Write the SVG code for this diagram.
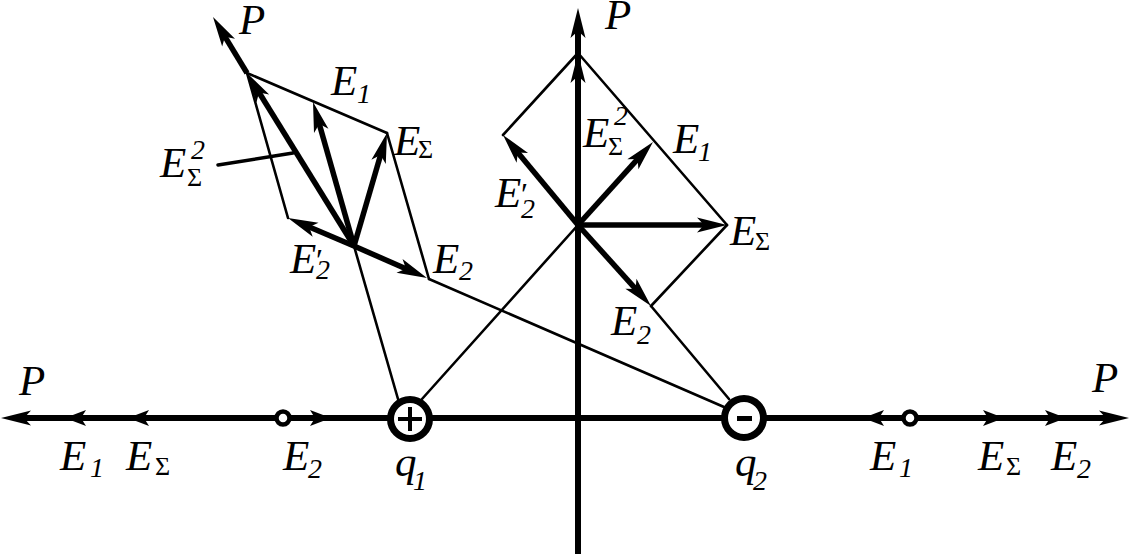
<svg xmlns="http://www.w3.org/2000/svg" xmlns:xlink="http://www.w3.org/1999/xlink" width="1131" height="554" viewBox="0 0 1131 554">
<style>
.thin{stroke:#000;stroke-width:2.6;fill:none;stroke-linecap:round}
.thick{stroke:#000;stroke-width:5.5;fill:none}
.axis{stroke:#000;stroke-width:6;fill:none}
.ah{fill:#000}
.t{font-family:"Liberation Serif","Times New Roman",serif;font-style:italic;font-size:43px;fill:#000}
.s{font-size:28px}
.g{font-style:normal;font-size:26px}
.pr{font-style:normal;font-size:32px}
</style>
<defs>
<path id="big" class="ah" d="M0,0 L-30,-7.5 L-23,0 L-30,7.5 Z"/>
<path id="small" class="ah" d="M0,0 L-21,-8 L-16,0 L-21,8 Z"/>
</defs>
<rect width="1131" height="554" fill="#fff"/>
<g id="connectors">
  <line class="axis" x1="18" y1="418" x2="1112" y2="418"/>
  <line class="axis" x1="578" y1="554" x2="578" y2="28"/>
  <use xlink:href="#big" transform="translate(1,418) rotate(180)"/>
  <use xlink:href="#small" transform="translate(65,418) rotate(180)"/>
  <use xlink:href="#small" transform="translate(128,418) rotate(180)"/>
  <use xlink:href="#small" transform="translate(331,418)"/>
  <use xlink:href="#small" transform="translate(863,418) rotate(180)"/>
  <use xlink:href="#small" transform="translate(1004,418)"/>
  <use xlink:href="#small" transform="translate(1066,418)"/>
  <use xlink:href="#big" transform="translate(1129,418)"/>
  <use xlink:href="#big" transform="translate(578,8) rotate(-90)"/>
  <use xlink:href="#big" transform="translate(578,53) rotate(-90)"/>
  <line class="thin" x1="247" y1="73" x2="387" y2="133"/>
  <line class="thin" x1="387" y1="133" x2="429" y2="279"/>
  <line class="thin" x1="247" y1="73" x2="288" y2="218"/>
  <line class="thin" x1="354" y1="246" x2="398" y2="399"/>
  <line class="thin" x1="429" y1="279" x2="724" y2="407"/>
  <line class="thin" x1="218" y1="165" x2="293" y2="153" style="stroke-width:3.5"/>
  <line class="thick" x1="354" y1="246" x2="257.5" y2="90"/>
  <use xlink:href="#big" transform="translate(247,73) rotate(-121.7)"/>
  <line class="thick" x1="247" y1="73" x2="223.4" y2="34.1"/>
  <use xlink:href="#big" transform="translate(213,17) rotate(-121.3)"/>
  <line class="thick" x1="354" y1="246" x2="318.5" y2="121.2"/>
  <use xlink:href="#big" transform="translate(313,102) rotate(-105.9)"/>
  <line class="thick" x1="354" y1="246" x2="381.4" y2="152.2"/>
  <use xlink:href="#big" transform="translate(387,133) rotate(-73.7)"/>
  <line class="thick" x1="354" y1="246" x2="306.4" y2="225.8"/>
  <use xlink:href="#big" transform="translate(288,218) rotate(-157)"/>
  <line class="thick" x1="354" y1="246" x2="408.7" y2="270"/>
  <use xlink:href="#big" transform="translate(427,278) rotate(23.7)"/>
  <line class="thin" x1="578" y1="53" x2="727" y2="225"/>
  <line class="thin" x1="578" y1="53" x2="503" y2="135"/>
  <line class="thin" x1="727" y1="225" x2="651" y2="306"/>
  <line class="thin" x1="651" y1="306" x2="729" y2="399"/>
  <line class="thin" x1="578" y1="225" x2="422" y2="399"/>
  <line class="thick" x1="578" y1="225" x2="639.6" y2="156.8"/>
  <use xlink:href="#big" transform="translate(653,142) rotate(-47.9)"/>
  <line class="thick" x1="578" y1="225" x2="707" y2="225"/>
  <use xlink:href="#big" transform="translate(727,225)"/>
  <line class="thick" x1="578" y1="225" x2="637.6" y2="291.1"/>
  <use xlink:href="#big" transform="translate(651,306) rotate(48)"/>
  <line class="thick" x1="578" y1="225" x2="515.9" y2="150.3"/>
  <use xlink:href="#big" transform="translate(503,135) rotate(-130.1)"/>
</g>
<g id="q1">
  <circle cx="410" cy="419" r="19.5" fill="#fff" stroke="#000" stroke-width="7"/>
  <path d="M398,419 H422 M410,407 V431" stroke="#000" stroke-width="4"/>
  <text class="t" x="395" y="476">q<tspan class="s" x="413" y="490">1</tspan></text>
</g>
<g id="q2">
  <circle cx="744" cy="418" r="19.5" fill="#fff" stroke="#000" stroke-width="7"/>
  <rect x="737" y="416" width="15" height="5" fill="#000"/>
  <text class="t" x="735" y="476">q<tspan class="s" x="753" y="490">2</tspan></text>
</g>
<g id="point-left">
  <circle cx="283" cy="418" r="6.5" fill="#fff" stroke="#000" stroke-width="4.5"/>
</g>
<g id="point-right">
  <circle cx="910" cy="418" r="6.5" fill="#fff" stroke="#000" stroke-width="4.5"/>
</g>
<g id="labels-axis">
  <text class="t" x="19" y="395">P</text>
  <text class="t" x="60" y="470">E<tspan class="s" x="90" y="477">1</tspan></text>
  <text class="t" x="126" y="470">E<tspan class="g" x="155" y="475">Σ</tspan></text>
  <text class="t" x="283" y="470">E<tspan class="s" x="308" y="478">2</tspan></text>
  <text class="t" x="870" y="470">E<tspan class="s" x="899" y="477">1</tspan></text>
  <text class="t" x="978" y="470">E<tspan class="g" x="1006" y="475">Σ</tspan></text>
  <text class="t" x="1051" y="470">E<tspan class="s" x="1077" y="478">2</tspan></text>
  <text class="t" x="1092" y="392">P</text>
</g>
<g id="labels-left">
  <text class="t" x="239" y="34">P</text>
  <text class="t" x="331" y="95">E<tspan class="s" x="357" y="103">1</tspan></text>
  <text class="t" x="394" y="155">E<tspan class="g" x="418" y="158">Σ</tspan></text>
  <text class="t" x="160" y="177">E<tspan class="s" x="191" y="159">2</tspan><tspan class="g" x="187" y="186">Σ</tspan></text>
  <text class="t" x="290" y="273">E<tspan class="pr" x="316" y="271">′</tspan><tspan class="s" x="316" y="279">2</tspan></text>
  <text class="t" x="433" y="273">E<tspan class="s" x="459" y="280">2</tspan></text>
</g>
<g id="labels-centre">
  <text class="t" x="605" y="29">P</text>
  <text class="t" x="583" y="147">E<tspan class="s" x="614" y="125">2</tspan><tspan class="g" x="608" y="155">Σ</tspan></text>
  <text class="t" x="673" y="153">E<tspan class="s" x="698" y="161">1</tspan></text>
  <text class="t" x="730" y="245">E<tspan class="g" x="755" y="250">Σ</tspan></text>
  <text class="t" x="495" y="207">E<tspan class="pr" x="521" y="205">′</tspan><tspan class="s" x="521" y="218">2</tspan></text>
  <text class="t" x="611" y="335">E<tspan class="s" x="637" y="344">2</tspan></text>
</g>
</svg>
